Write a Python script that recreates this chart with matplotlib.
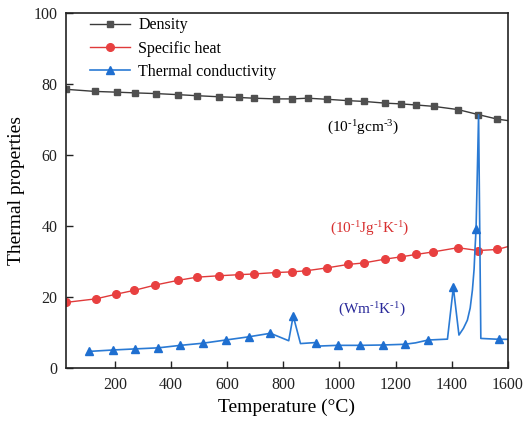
"""Thermal properties vs temperature (density, specific heat, conductivity)."""
import matplotlib
matplotlib.use("Agg")
import matplotlib.pyplot as plt

plt.rcParams["font.family"] = ["Liberation Serif", "DejaVu Serif"]
plt.rcParams["mathtext.fontset"] = "custom"
plt.rcParams["mathtext.rm"] = "Liberation Serif"
plt.rcParams["mathtext.it"] = "Liberation Serif:italic"

# density (10^-1 g cm^-3)
density_t = [25, 130, 205, 270, 345, 424, 492, 571, 642, 694, 772, 832, 886,
             954, 1032, 1086, 1164, 1218, 1272, 1336, 1422, 1494, 1563, 1600]
density_v = [78.6, 78.0, 77.8, 77.6, 77.4, 77.1, 76.8, 76.5, 76.3, 76.1, 75.9,
             75.9, 76.1, 75.8, 75.4, 75.2, 74.7, 74.5, 74.2, 73.8, 72.9, 71.5,
             70.2, 69.8]
density_marks = list(range(23))

# specific heat (10^-1 J g^-1 K^-1)
heat_t = [25, 132, 203, 269, 344, 424, 492, 571, 642, 694, 772, 832, 881,
          954, 1032, 1086, 1164, 1218, 1273, 1333, 1422, 1494, 1563, 1600]
heat_v = [18.6, 19.6, 20.9, 22.0, 23.5, 24.8, 25.7, 26.1, 26.4, 26.6, 27.0,
          27.2, 27.5, 28.3, 29.3, 29.7, 30.8, 31.4, 32.1, 32.8, 34.0, 33.2,
          33.5, 34.3]
heat_marks = list(range(23))

# thermal conductivity (W m^-1 K^-1)
cond_t = [108, 194, 272, 354, 433, 513, 594, 676, 754, 819, 835, 861, 917,
          926, 993, 1073, 1154, 1232, 1271, 1316, 1385, 1406, 1426, 1442,
          1456, 1466, 1474, 1480, 1483, 1487, 1496, 1504, 1569, 1600]
cond_v = [4.8, 5.2, 5.5, 5.8, 6.5, 7.1, 8.0, 8.9, 9.9, 7.8, 14.8, 7.0, 7.3,
          6.3, 6.5, 6.5, 6.6, 6.8, 7.2, 8.0, 8.25, 22.8, 9.4, 11.3,
          13.6, 17.0, 22.1, 28.0, 33.3, 39.2, 71.4, 8.45, 8.2, 8.2]
cond_marks = [0, 1, 2, 3, 4, 5, 6, 7, 8, 10, 12, 14, 15, 16, 17, 19, 21, 29, 32]

fig = plt.figure(figsize=(5.24, 4.23), dpi=100)
ax = fig.add_axes([0.126, 0.129, 0.843, 0.8395])

ax.plot(density_t, density_v, color="#3a3a3a", lw=1.0, marker="s", ms=5,
        mfc="#505050", mec="#505050", markevery=density_marks, label="Density")
ax.plot(heat_t, heat_v, color="#e03a3a", lw=1.0, marker="o", ms=5.5,
        mfc="#e84040", mec="#e84040", markevery=heat_marks, label="Specific heat")
ax.plot(cond_t, cond_v, color="#2a7ad4", lw=1.2, marker="^", ms=6,
        mfc="#1f6fd0", mec="#1f6fd0", markevery=cond_marks,
        label="Thermal conductivity")

hy = "\u2010"
ax.text(1082, 67.7, r"(10$^{%s1}$gcm$^{%s3}$)" % (hy, hy), color="black",
        fontsize=11, ha="center", va="center")
ax.text(1107, 39.2, r"(10$^{%s1}$Jg$^{%s1}$K$^{%s1}$)" % (hy, hy, hy),
        color="#d83030", fontsize=11, ha="center", va="center")
ax.text(1114, 16.6, r"(Wm$^{%s1}$K$^{%s1}$)" % (hy, hy), color="#2a2a9a",
        fontsize=11, ha="center", va="center")

ax.set_xlim(25, 1600)
ax.set_ylim(0, 100)
ax.set_xticks([200, 400, 600, 800, 1000, 1200, 1400, 1600])
ax.set_yticks([0, 20, 40, 60, 80, 100])
ax.tick_params(direction="in", length=5, width=1, labelsize=11.5,
               colors="#222222", pad=6)
for s in ax.spines.values():
    s.set_linewidth(1.2)
    s.set_color("#222222")

ax.set_xlabel("Temperature (°C)", fontsize=14, labelpad=4)
ax.set_ylabel("Thermal properties", fontsize=14, labelpad=6)

ax.legend(loc="upper left", bbox_to_anchor=(0.03, 1.02), frameon=False,
          fontsize=11.5, handlelength=2.5, handletextpad=0.5,
          labelspacing=0.45, borderaxespad=0.3)

fig.savefig("out.png", dpi=100)
